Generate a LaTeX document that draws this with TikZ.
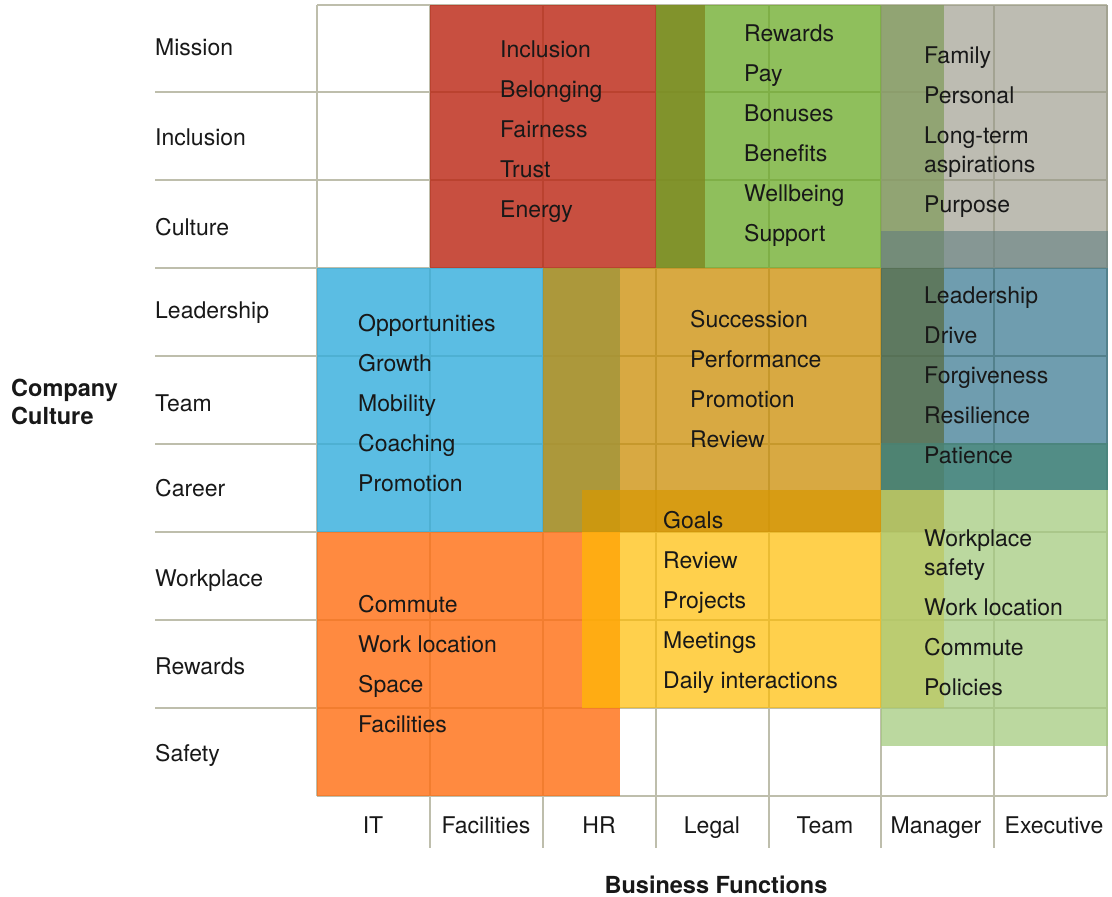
\documentclass[tikz,border=0pt]{standalone}
\usepackage{fontspec}
\setmainfont{TeX Gyre Heros}
\definecolor{gridc}{RGB}{190,190,172}
\definecolor{ink}{RGB}{24,24,24}
\definecolor{cred}{RGB}{186,35,16}
\definecolor{cgreen}{RGB}{106,170,38}
\definecolor{cblue}{RGB}{50,173,220}
\definecolor{corange}{RGB}{255,109,16}
\definecolor{cyellow}{RGB}{255,188,0}
\definecolor{cgold}{RGB}{202,139,0}
\definecolor{clgreen}{RGB}{164,203,127}
\definecolor{csteel}{RGB}{7,86,117}
\definecolor{cgray}{RGB}{148,147,131}
\begin{document}
\begin{tikzpicture}[x=1pt,y=-1pt,
  gridline/.style={draw=gridc, line width=1.4pt},
  item/.style={anchor=base west, inner sep=0pt, text=ink, font=\fontsize{23}{28}\selectfont},
  collab/.style={anchor=base, inner sep=0pt, text=ink, font=\fontsize{23}{28}\selectfont},
  axislab/.style={inner sep=0pt, text=ink, font=\fontsize{23.5}{28}\selectfont\bfseries},
  panel/.style 2 args={fill=#1, fill opacity=#2}]
\useasboundingbox (0,0) rectangle (1112,897);
% grid
\foreach \y in {92,180,...,708} \draw[gridline] (155,\y) -- (1107,\y);
\draw[gridline] (317,5) -- (1107,5);
\draw[gridline] (317,796) -- (1107,796);
\draw[gridline] (317,5) -- (317,796);
\draw[gridline] (1107,5) -- (1107,796);
\foreach \x in {430,543,656,769,881,994} \draw[gridline] (\x,5) -- (\x,848);
% boxes (bottom to top)
\path[panel={cred}{0.8}]     (430,5)   rectangle (705,268);
\path[panel={cgreen}{0.75}]  (656,5)   rectangle (944,268);
\path[panel={cblue}{0.8}]    (317,268) rectangle (620,532);
\path[panel={corange}{0.8}]  (317,532) rectangle (620,796);
\path[panel={cyellow}{0.7}]  (582,490) rectangle (944,708);
\path[panel={cgold}{0.74}]   (543,268) rectangle (944,532);
\path[panel={clgreen}{0.75}] (881,443) rectangle (1108,746);
\path[panel={csteel}{0.58}]  (881,231) rectangle (1108,490);
\path[panel={cgray}{0.62}]   (881,5)   rectangle (1108,268);
% row labels
\foreach \t/\b [count=\i] in {Mission/55,Inclusion/145,Culture/235,Leadership/318,Team/411,Career/496,Workplace/586,Rewards/674,Safety/761}
  \node[item] (row\i) at (155,\b) {\t};
% column labels
\foreach \t/\x [count=\i] in {IT/373,Facilities/486,HR/599,Legal/712,Team/825,Manager/936,Executive/1054}
  \node[collab] (col\i) at (\x,833) {\t};
% box texts
\foreach \t [count=\i] in {Inclusion,Belonging,Fairness,Trust,Energy}
  \node[item] (red\i) at (500,17+40*\i) {\t};
\foreach \t [count=\i] in {Rewards,Pay,Bonuses,Benefits,Wellbeing,Support}
  \node[item] (green\i) at (744,1+40*\i) {\t};
\foreach \t/\b [count=\i] in {Family/63,Personal/103,Long-term/143,aspirations/172,Purpose/212}
  \node[item] (gray\i) at (924,\b) {\t};
\foreach \t [count=\i] in {Opportunities,Growth,Mobility,Coaching,Promotion}
  \node[item] (blue\i) at (358,291+40*\i) {\t};
\foreach \t [count=\i] in {Succession,Performance,Promotion,Review}
  \node[item] (gold\i) at (690,287+40*\i) {\t};
\foreach \t [count=\i] in {Leadership,Drive,Forgiveness,Resilience,Patience}
  \node[item] (steel\i) at (924,263+40*\i) {\t};
\foreach \t [count=\i] in {Goals,Review,Projects,Meetings,Daily interactions}
  \node[item] (yellow\i) at (663,488+40*\i) {\t};
\foreach \t/\b [count=\i] in {Workplace/546,safety/575,Work location/615,Commute/655,Policies/695}
  \node[item] (lgreen\i) at (924,\b) {\t};
\foreach \t [count=\i] in {Commute,Work location,Space,Facilities}
  \node[item] (orange\i) at (358,572+40*\i) {\t};
% axis titles
\node[axislab, anchor=base west] (cc1) at (11,396) {Company};
\node[axislab, anchor=base west] (cc2) at (11,424) {Culture};
\node[axislab, anchor=base] (bf) at (716,893) {Business Functions};
\end{tikzpicture}
\end{document}
